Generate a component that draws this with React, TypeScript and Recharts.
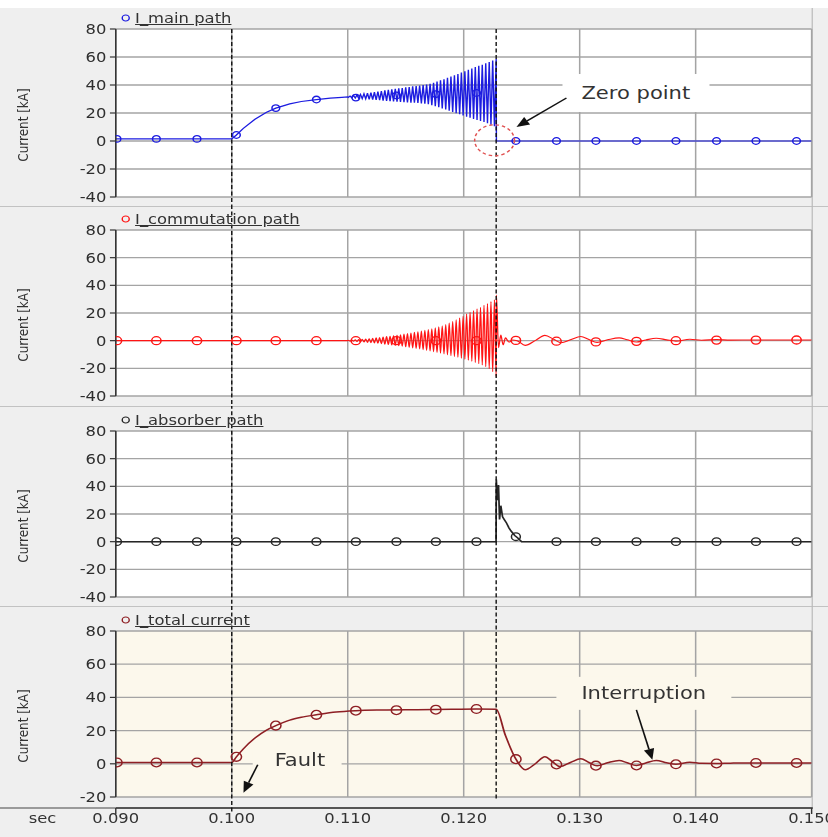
import React from 'react';
import {
  ComposedChart,
  Line,
  Scatter,
  XAxis,
  YAxis,
  CartesianGrid,
  ReferenceLine,
  ReferenceDot,
  Legend,
  Label,
} from 'recharts';

type Pt = { t: number; v: number };

// ---- axes -------------------------------------------------------------
const X_DOMAIN: [number, number] = [0.09, 0.15];
const X_TICKS = [0.09, 0.1, 0.11, 0.12, 0.13, 0.14, 0.15];
const PATH_DOMAIN: [number, number] = [-40, 80];
const PATH_TICKS = [-40, -20, 0, 20, 40, 60, 80];
const TOTAL_DOMAIN: [number, number] = [-20, 80];
const TOTAL_TICKS = [-20, 0, 20, 40, 60, 80];

// fault instant and current-zero instant (s)
const FAULT_T = 0.1;
const ZERO_T = 0.1228;

// ---- marker samples shared by all four traces ---------------------------
const markerT = [
  0.0901, 0.0935, 0.097, 0.1004, 0.1038, 0.1073, 0.1107, 0.1142, 0.1176, 0.1211,
  0.1245, 0.128, 0.1314, 0.1349, 0.1383, 0.1418, 0.1452, 0.1487,
];
const mainMarkerV = [1.5, 1.5, 1.5, 4.3, 23.5, 29.6, 31, 32.5, 33.5, 34.3, 0, 0, 0, 0, 0, 0, 0, 0];
const commMarkerV = [0, 0, 0, 0, 0, 0, 0, 0, 0, 0, 0.2, -0.4, -0.9, -0.5, 0, 0.4, 0.4, 0.5];
const absorberMarkerV = [0, 0, 0, 0, 0, 0, 0, 0, 0, 0, 3.6, 0, 0, 0, 0, 0, 0, 0];
const totalMarkerV = [0.8, 0.8, 0.8, 4.2, 23, 29.5, 32, 32.3, 32.6, 33, 2.8, -0.4, -1.1, -1, -0.3, 0.2, 0.5, 0.5];

// ---- oscillation turning points before current zero ---------------------
const oscTroughT = [
  0.11005, 0.11035, 0.11065, 0.11095, 0.11125, 0.11155, 0.11185, 0.11215, 0.11245, 0.11275,
  0.11305, 0.11335, 0.11365, 0.11395, 0.11425, 0.11455, 0.11485, 0.11515, 0.11545, 0.11575,
  0.11605, 0.11635, 0.11665, 0.11695, 0.11725, 0.11755, 0.11785, 0.11815, 0.11845, 0.11875,
  0.11905, 0.11935, 0.11965, 0.11995, 0.12025, 0.12055, 0.12085, 0.12115, 0.12145, 0.12175,
  0.12205, 0.12235, 0.12265,
];
const oscPeakT = [
  0.1102, 0.1105, 0.1108, 0.1111, 0.1114, 0.1117, 0.112, 0.1123, 0.1126, 0.1129,
  0.1132, 0.1135, 0.1138, 0.1141, 0.1144, 0.1147, 0.115, 0.1153, 0.1156, 0.1159,
  0.1162, 0.1165, 0.1168, 0.1171, 0.1174, 0.1177, 0.118, 0.1183, 0.1186, 0.1189,
  0.1192, 0.1195, 0.1198, 0.1201, 0.1204, 0.1207, 0.121, 0.1213, 0.1216, 0.1219,
  0.1222, 0.1225, 0.1228,
];

// main path (kA)
const mainRampT = [0.09, 0.1, 0.1004, 0.101, 0.102, 0.103, 0.1038, 0.105, 0.106, 0.1073, 0.1085, 0.1095, 0.11];
const mainRampV = [1.5, 1.5, 4.3, 9, 15.5, 20.5, 23.5, 26.5, 28.2, 29.6, 30.6, 31.2, 31.5];
const mainTroughV = [
  31.1, 30.9, 30.7, 30.5, 30.3, 30.1, 29.8, 29.5, 29.3, 29.1,
  28.9, 28.7, 28.5, 28.3, 28.0, 27.9, 27.7, 27.6, 27.4, 27.3,
  27.2, 26.9, 26.7, 26.2, 25.6, 24.8, 24.1, 23.3, 22.5, 21.6,
  20.8, 19.9, 19.1, 18.2, 17.4, 16.6, 15.8, 15.1, 14.3, 13.5,
  12.6, 11.7, 10.6,
];
const mainPeakV = [
  32.1, 32.5, 32.9, 33.3, 33.7, 34.1, 34.6, 34.9, 35.3, 35.7,
  36.1, 36.5, 36.9, 37.3, 37.6, 37.9, 38.3, 38.6, 39.0, 39.3,
  39.6, 39.9, 40.3, 40.8, 41.6, 42.4, 43.3, 44.1, 45.1, 46.0,
  47.0, 47.9, 48.9, 49.8, 50.8, 51.8, 52.8, 53.7, 54.5, 55.5,
  56.4, 57.5, 58.6,
];
const mainTailT = [0.12282, 0.15];
const mainTailV = [0, 0];

// commutation path (kA)
const commPreT = [0.09, 0.11];
const commPreV = [0, 0];
const commTroughV = [
  0.3, 0.45, 0.6, 0.8, 1.0, 1.2, 1.4, 1.7, 2.0, 2.3,
  2.6, 2.9, 3.2, 3.5, 3.9, 4.3, 4.7, 5.1, 5.5, 6.0,
  6.5, 7.0, 7.5, 8.0, 8.6, 9.3, 10.0, 10.8, 11.7, 12.7,
  13.8, 15.0, 16.3, 17.7, 19.2, 20.5, 21.8, 23.0, 24.2, 25.5,
  26.8, 28.2, 29.5,
];
const commPeakV = [
  -0.3, -0.45, -0.6, -0.8, -1.0, -1.2, -1.4, -1.6, -1.9, -2.2,
  -2.5, -2.8, -3.1, -3.4, -3.7, -4.0, -4.4, -4.8, -5.2, -5.6,
  -6.0, -6.5, -7.0, -7.5, -8.0, -8.5, -9.0, -9.6, -10.2, -10.8,
  -11.4, -12.0, -12.7, -13.4, -14.1, -14.9, -15.7, -16.6, -17.6, -18.8,
  -20.3, -22.5, -26.0,
];
const commTailT = [
  0.12282, 0.123, 0.1232, 0.1234, 0.1236, 0.1239, 0.1242, 0.1246, 0.1253, 0.1262,
  0.127, 0.1278, 0.1284, 0.1292, 0.1301, 0.1308, 0.1315, 0.1324, 0.1334, 0.1341,
  0.1349, 0.1357, 0.1366, 0.1375, 0.1383, 0.1395, 0.1405, 0.1418, 0.143, 0.145, 0.15,
];
const commTailV = [
  33, -5, 4, -3, 2, -1, 0.5, 0, -3.4, 0.2,
  3.8, 0.8, -1.5, 0.6, 3.0, 0.8, -1.2, 0.6, 2.0, 0.6,
  -1.0, 0.5, 1.8, 0.6, -0.3, 1.0, 0.3, 0.8, 0.4, 0.5, 0.5,
];

// absorber path (kA)
const absorberT = [
  0.09, 0.12279, 0.12281, 0.1229, 0.123, 0.12309, 0.1232, 0.12335, 0.1235, 0.12369,
  0.1239, 0.1241, 0.1244, 0.12464, 0.125, 0.15,
];
const absorberV = [0, 0, 45, 30, 41, 16, 26, 18, 16, 13.5, 10, 7.5, 4.5, 2.9, 0, 0];

// total current (kA)
const totalT = [
  0.09, 0.1, 0.1004, 0.101, 0.102, 0.103, 0.1038, 0.105, 0.106, 0.1073,
  0.109, 0.1107, 0.113, 0.116, 0.119, 0.1211, 0.1228, 0.1236, 0.1245, 0.1253,
  0.1262, 0.127, 0.1277, 0.1283, 0.1292, 0.1301, 0.1308, 0.1315, 0.1324, 0.1334,
  0.1341, 0.1349, 0.1357, 0.1366, 0.1375, 0.1383, 0.1395, 0.1405, 0.1418, 0.143,
  0.145, 0.15,
];
const totalV = [
  0.8, 0.8, 4.2, 9, 15.5, 20.3, 23, 26.3, 28, 29.5,
  31.2, 32, 32.4, 32.6, 32.8, 33, 32.8, 17, 2.8, -3.6,
  0.2, 4.3, 1, -1.7, 0.8, 3, 0.8, -1.2, 0.6, 2,
  0.6, -1, 0.5, 2, 0.6, -0.3, 1, 0.3, 0.2, 0.4,
  0.5, 0.5,
];

// ---- table builders -----------------------------------------------------
const pts = (t: number[], v: number[]): Pt[] => t.map((x, i) => ({ t: x, v: v[i] }));
const byTime = (a: Pt, b: Pt) => a.t - b.t;

const mainData = [
  ...pts(mainRampT, mainRampV),
  ...pts(oscTroughT, mainTroughV),
  ...pts(oscPeakT, mainPeakV),
  ...pts(mainTailT, mainTailV),
].sort(byTime);
const commData = [
  ...pts(commPreT, commPreV),
  ...pts(oscTroughT, commTroughV),
  ...pts(oscPeakT, commPeakV),
  ...pts(commTailT, commTailV),
].sort(byTime);
const absorberData = pts(absorberT, absorberV);
const totalData = pts(totalT, totalV);

// ---- layout ----------------------------------------------------------------
const OUT_W = 828;
const OUT_H = 837;
const IN_W = 708;
const SX = OUT_W / IN_W;
const AXIS_W = 99;
const RIGHT = 14;
const FONT = '"DejaVu Sans", Verdana, sans-serif';
const INK = '#333';
const CREAM = '#fcf8ec';
const AXIS_LINE_Y = 202; // x-axis line inside the bottom chart
const X_LABEL_DY = 15;

const ring = (color: string, r: number) => (p: any) =>
  p.cx == null ? <g /> : <circle cx={p.cx} cy={p.cy} r={r} fill="none" stroke={color} strokeWidth={1.3} />;

const yAxisLabel = (props: any) => {
  const vb = props.viewBox || {};
  const cx = (vb.x ?? 0) + 19.7;
  const cy = (vb.y ?? 0) + (vb.height ?? 0) / 2 + 12;
  return (
    <text
      x={cx}
      y={cy}
      transform={`rotate(-90 ${cx} ${cy})`}
      textAnchor="middle"
      dominantBaseline="central"
      fontSize={12}
      fill={INK}
      fontFamily={FONT}
    >
      Current [kA]
    </text>
  );
};

const secLabel = (props: any) => {
  const vb = props.viewBox || {};
  return (
    <text x={(vb.x ?? AXIS_W) - 62.7} y={AXIS_LINE_Y + X_LABEL_DY} textAnchor="middle" fontSize={14} fill={INK} fontFamily={FONT}>
      sec
    </text>
  );
};

const xTick = (props: any) => {
  const { x, payload } = props;
  const v = payload.value as number;
  const edge = v === X_TICKS[0] || v === X_TICKS[X_TICKS.length - 1];
  return (
    <g>
      {edge && <line x1={x} x2={x} y1={AXIS_LINE_Y} y2={AXIS_LINE_Y + 6} stroke={INK} strokeWidth={1.2} />}
      <text x={x} y={AXIS_LINE_Y + X_LABEL_DY} textAnchor="middle" fontSize={14} fill={INK} fontFamily={FONT}>
        {v.toFixed(3)}
      </text>
    </g>
  );
};

const titleContent = (label: string, color: string) => () => (
  <div
    style={{
      display: 'flex',
      alignItems: 'flex-start',
      fontFamily: FONT,
      fontSize: 14,
      lineHeight: '16px',
      color: INK,
      whiteSpace: 'nowrap',
    }}
  >
    <svg width={9} height={16} style={{ display: 'block' }}>
      <circle cx={4.5} cy={8} r={3} fill="none" stroke={color} strokeWidth={1.2} />
    </svg>
    <span style={{ marginLeft: 3.5, textDecoration: 'underline' }}>{label}</span>
  </div>
);

// A text box with an arrow; the box is placed relative to the arrow's tail.
type Callout = {
  text: string;
  fill: string;
  boxDx: number;
  boxTopDy: number;
  boxW: number;
  boxH: number;
  textDx: number;
  textDy: number;
};

const calloutShape = (c: Callout) => (p: any) => {
  const { x1, y1, x2, y2 } = p;
  if ([x1, y1, x2, y2].some((n) => typeof n !== 'number')) return <g />;
  const ang = Math.atan2(y2 - y1, x2 - x1);
  const L = 11;
  const W = 4.5;
  const bx = x2 - L * Math.cos(ang);
  const by = y2 - L * Math.sin(ang);
  const px = -Math.sin(ang) * W;
  const py = Math.cos(ang) * W;
  return (
    <g>
      <rect x={x1 + c.boxDx} y={y1 + c.boxTopDy} width={c.boxW} height={c.boxH} fill={c.fill} />
      <text x={x1 + c.textDx} y={y1 + c.textDy} fontSize={18} fill={INK} fontFamily={FONT}>
        {c.text}
      </text>
      <line x1={x1} y1={y1} x2={bx} y2={by} stroke="#111" strokeWidth={1.4} />
      <polygon points={`${x2},${y2} ${bx + px},${by + py} ${bx - px},${by - py}`} fill="#111" />
    </g>
  );
};

const zeroRing = (p: any) =>
  p.cx == null ? (
    <g />
  ) : (
    <ellipse cx={p.cx} cy={p.cy} rx={17} ry={15.5} fill="none" stroke="#e05050" strokeWidth={1.3} strokeDasharray="3 2.5" />
  );

const guide = (t: number, yTop: number, yBottom: number, key: string) => (
  <ReferenceLine
    key={key}
    segment={[
      { x: t, y: yTop },
      { x: t, y: yBottom },
    ]}
    ifOverflow="visible"
    stroke="#111"
    strokeWidth={1.2}
    strokeDasharray="4 2.5"
  />
);

const note = (key: string, from: [number, number], to: [number, number], c: Callout) => (
  <ReferenceLine
    key={key}
    segment={[
      { x: from[0], y: from[1] },
      { x: to[0], y: to[1] },
    ]}
    ifOverflow="visible"
    shape={calloutShape(c)}
  />
);

type PanelProps = {
  top: number;
  height: number;
  marginTop: number;
  marginBottom: number;
  title: string;
  titleTop: number;
  color: string;
  lineWidth: number;
  lineType: 'linear' | 'monotone';
  data: Pt[];
  markers: Pt[];
  markerR: number;
  yDomain: [number, number];
  yTicks: number[];
  plotFill: string;
  showX?: boolean;
  extras?: React.ReactNode[];
};

function Panel(p: PanelProps) {
  return (
    <div style={{ position: 'absolute', left: 0, top: p.top }}>
      <ComposedChart
        width={IN_W}
        height={p.height}
        margin={{ top: p.marginTop, right: RIGHT, bottom: p.marginBottom, left: 0 }}
      >
        <CartesianGrid stroke="#a4a4a4" strokeWidth={1.3} fill={p.plotFill} fillOpacity={1} />
        <XAxis
          type="number"
          dataKey="t"
          domain={X_DOMAIN}
          ticks={X_TICKS}
          allowDataOverflow
          interval={0}
          hide={!p.showX}
          height={p.showX ? 34 : 0}
          axisLine={false}
          tickLine={false}
          tick={xTick}
          label={p.showX ? <Label content={secLabel} /> : undefined}
        />
        <YAxis
          type="number"
          domain={p.yDomain}
          ticks={p.yTicks}
          allowDataOverflow
          interval={0}
          width={AXIS_W}
          tickSize={5}
          tickMargin={3}
          axisLine={{ stroke: INK, strokeWidth: 1.3 }}
          tickLine={{ stroke: INK, strokeWidth: 1.2 }}
          tick={{ fill: '#2e2e2e', fontSize: 14, fontFamily: FONT }}
          label={<Label content={yAxisLabel} />}
        />
        <Legend
          layout="horizontal"
          verticalAlign="middle"
          align="center"
          content={titleContent(p.title, p.color)}
          wrapperStyle={{ top: p.titleTop, left: 103, width: 'auto', height: 'auto' }}
        />
        <Line
          data={p.data}
          dataKey="v"
          name={p.title}
          type={p.lineType}
          stroke={p.color}
          strokeWidth={p.lineWidth}
          dot={false}
          activeDot={false}
          isAnimationActive={false}
        />
        <Scatter
          data={p.markers}
          dataKey="v"
          legendType="none"
          shape={ring(p.color, p.markerR)}
          isAnimationActive={false}
        />
        {p.extras}
      </ComposedChart>
    </div>
  );
}

export default function App() {
  return (
    <div
      style={{
        position: 'absolute',
        left: 0,
        top: 0,
        width: OUT_W,
        height: OUT_H,
        overflow: 'hidden',
        background: '#efefef',
        fontFamily: FONT,
      }}
    >
      <div
        style={{
          position: 'absolute',
          left: 0,
          top: 0,
          width: IN_W,
          height: OUT_H,
          transform: `scale(${SX}, 1)`,
          transformOrigin: '0 0',
        }}
      >
        <div style={{ position: 'absolute', left: 0, top: 0, width: IN_W, height: 8, background: '#fff' }} />
        <div style={{ position: 'absolute', left: 0, top: 206, width: IN_W, height: 1, background: '#c2c2c2' }} />
        <div style={{ position: 'absolute', left: 0, top: 406, width: IN_W, height: 1, background: '#c2c2c2' }} />
        <div style={{ position: 'absolute', left: 0, top: 606, width: IN_W, height: 1, background: '#c2c2c2' }} />
        <div style={{ position: 'absolute', left: 694, top: 8, width: 1, height: 800, background: '#b8b8b8' }} />
        <div style={{ position: 'absolute', left: 0, top: 807, width: AXIS_W, height: 1.5, background: '#9a9a9a' }} />
        <div style={{ position: 'absolute', left: AXIS_W, top: 807, width: 596, height: 1.5, background: '#555' }} />

        <Panel
          top={0}
          height={206}
          marginTop={29}
          marginBottom={9}
          title="I_main path"
          titleTop={10}
          color="#1c1ce0"
          lineWidth={1.2}
          lineType="linear"
          data={mainData}
          markers={pts(markerT, mainMarkerV)}
          markerR={3.3}
          yDomain={PATH_DOMAIN}
          yTicks={PATH_TICKS}
          plotFill="#ffffff"
          extras={[
            guide(FAULT_T, 80, -47, 'g1'),
            guide(ZERO_T, 80, -47, 'g2'),
            <ReferenceDot key="ring" x={0.12266} y={0.5} ifOverflow="visible" shape={zeroRing} />,
            note('zp', [0.12886, 30.7], [0.12455, 10], {
              text: 'Zero point',
              fill: '#ffffff',
              boxDx: -3.4,
              boxTopDy: -24,
              boxW: 125.7,
              boxH: 38,
              textDx: 12.8,
              textDy: 1,
            }),
          ]}
        />
        <Panel
          top={206}
          height={200}
          marginTop={24}
          marginBottom={10}
          title="I_commutation path"
          titleTop={5}
          color="#ff1414"
          lineWidth={1.1}
          lineType="monotone"
          data={commData}
          markers={pts(markerT, commMarkerV)}
          markerR={4}
          yDomain={PATH_DOMAIN}
          yTicks={PATH_TICKS}
          plotFill="#ffffff"
          extras={[guide(FAULT_T, 98, -48, 'g1'), guide(ZERO_T, 98, -48, 'g2')]}
        />
        <Panel
          top={406}
          height={200}
          marginTop={25}
          marginBottom={9}
          title="I_absorber path"
          titleTop={6}
          color="#262626"
          lineWidth={1.5}
          lineType="linear"
          data={absorberData}
          markers={pts(markerT, absorberMarkerV)}
          markerR={3.8}
          yDomain={PATH_DOMAIN}
          yTicks={PATH_TICKS}
          plotFill="#ffffff"
          extras={[guide(FAULT_T, 99, -47, 'g1'), guide(ZERO_T, 99, -47, 'g2')]}
        />
        <Panel
          top={606}
          height={231}
          marginTop={25}
          marginBottom={6}
          title="I_total current"
          titleTop={6}
          color="#8e1f24"
          lineWidth={1.5}
          lineType="monotone"
          data={totalData}
          markers={pts(markerT, totalMarkerV)}
          markerR={4.4}
          yDomain={TOTAL_DOMAIN}
          yTicks={TOTAL_TICKS}
          plotFill={CREAM}
          showX
          extras={[
            guide(FAULT_T, 95, -29.6, 'g1'),
            guide(ZERO_T, 95, -21.8, 'g2'),
            note('fault', [0.10224, -0.6], [0.10101, -17.4], {
              text: 'Fault',
              fill: CREAM,
              boxDx: -4.3,
              boxTopDy: -14,
              boxW: 76,
              boxH: 27,
              textDx: 14.5,
              textDy: 1.5,
            }),
            note('intr', [0.13489, 32.5], [0.13627, 2.4], {
              text: 'Interruption',
              fill: CREAM,
              boxDx: -68.4,
              boxTopDy: -33,
              boxW: 149.6,
              boxH: 33,
              textDx: -47,
              textDy: -11,
            }),
          ]}
        />
      </div>
    </div>
  );
}
